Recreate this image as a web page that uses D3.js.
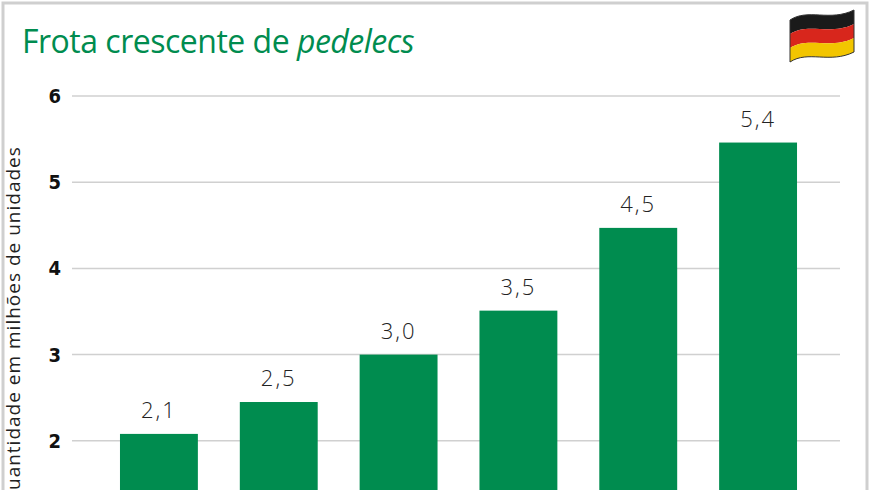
<!DOCTYPE html>
<html><head><meta charset="utf-8">
<script src="https://cdn.jsdelivr.net/npm/d3@7"></script>
<style>body{margin:0;background:#fff}svg{display:block}</style>
</head><body><svg id="c" width="870" height="490"></svg>
<script>
const categories = ["a","b","c","d","e","f"];
const values = [2.08, 2.45, 3.0, 3.51, 4.47, 5.46];
const labels = ["2,1","2,5","3,0","3,5","4,5","5,4"];
const yTicks = [2,3,4,5,6];

const svg = d3.select("#c");
const green = "#008c4f";
svg.append("rect").attr("x",3).attr("y",3).attr("width",864).attr("height",500)
  .attr("fill","none").attr("stroke","#cfcfcf").attr("stroke-width",3);

const y = d3.scaleLinear().domain([1,6]).range([527,96]);
const x = d3.scaleBand().domain(categories).range([102,815]).paddingInner(0.35).paddingOuter(0.15);

const g = svg.append("g");
g.selectAll("line.grid").data(yTicks).join("line")
  .attr("x1",72).attr("x2",840).attr("y1",d=>y(d)).attr("y2",d=>y(d))
  .attr("stroke","#d0d0d0").attr("stroke-width",1.5);
g.selectAll("text.tick").data(yTicks).join("text")
  .attr("x",61).attr("y",d=>y(d)+7).attr("text-anchor","end")
  .attr("font-family","'Liberation Sans Narrow','DejaVu Sans Condensed',sans-serif")
  .attr("font-weight","bold").attr("font-size",20).attr("fill","#111").text(d=>d);

g.selectAll("rect.bar").data(values).join("rect")
  .attr("x",(d,i)=>x(categories[i])).attr("width",x.bandwidth())
  .attr("y",d=>y(d)).attr("height",d=>y(1)-y(d)).attr("fill",green);
g.selectAll("text.lbl").data(values).join("text")
  .attr("x",(d,i)=>x(categories[i])+x.bandwidth()/2).attr("y",d=>y(d)-16)
  .attr("text-anchor","middle").attr("font-family","'Open Sans',sans-serif")
  .attr("font-weight",300).attr("font-size",22).attr("letter-spacing",2).attr("fill","#222")
  .text((d,i)=>labels[i]);

svg.append("text").attr("transform","translate(20,326) rotate(-90)")
  .attr("text-anchor","middle").attr("font-family","'Open Sans',sans-serif")
  .attr("font-size",19).attr("letter-spacing",1).attr("fill","#222")
  .text("Quantidade em milhões de unidades");

const t = svg.append("text").attr("x",22).attr("y",53)
  .attr("font-family","'Open Sans',sans-serif").attr("font-size",32)
  .attr("fill",green).attr("letter-spacing",-0.5);
t.append("tspan").text("Frota crescente de ");
t.append("tspan").attr("font-style","italic").text("pedelecs");

// flag
const fg = svg.append("g");
const cols = ["#1a1a1a","#d8261c","#f2c500"];
cols.forEach((c,i)=>{
  const y0 = 12 + i*14;
  const p = d3.path();
  p.moveTo(790, y0+8); p.bezierCurveTo(808,y0-4,830,y0+10,854,y0-2);
  p.lineTo(854,y0+12); p.bezierCurveTo(830,y0+24,808,y0+10,790,y0+22); p.closePath();
  fg.append("path").attr("d",p.toString()).attr("fill",c);
});
fg.append("path").attr("d","M790,20 C808,8 830,22 854,10 L854,52 C830,64 808,50 790,62 Z")
  .attr("fill","none").attr("stroke","#333").attr("stroke-width",1);
</script></body></html>
